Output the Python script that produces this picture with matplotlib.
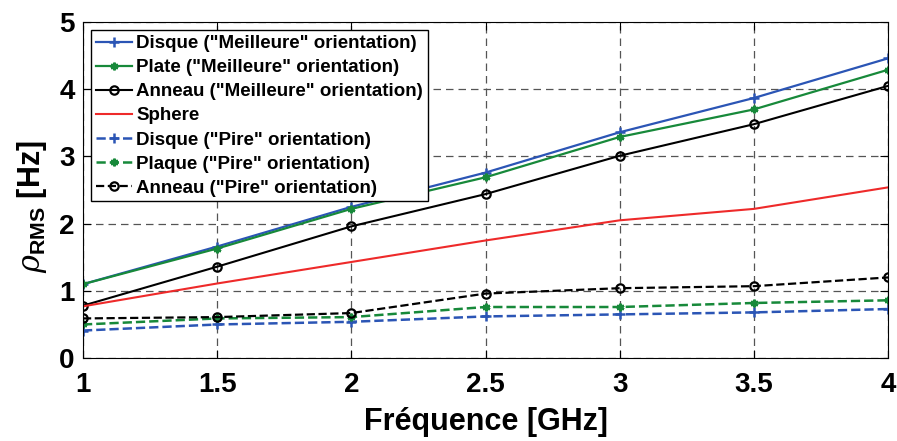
import numpy as np
import matplotlib
matplotlib.use('Agg')
import matplotlib.pyplot as plt

plt.rcParams['font.family'] = ['Liberation Sans', 'DejaVu Sans']
plt.rcParams['mathtext.fontset'] = 'custom'
plt.rcParams['mathtext.rm'] = 'Liberation Sans:bold'
plt.rcParams['mathtext.it'] = 'DejaVu Serif:italic'

freq = [1, 1.5, 2, 2.5, 3, 3.5, 4]

disque_best = [1.10, 1.66, 2.25, 2.76, 3.36, 3.87, 4.46]
plate_best = [1.10, 1.63, 2.22, 2.69, 3.29, 3.70, 4.29]
anneau_best = [0.78, 1.36, 1.96, 2.44, 3.01, 3.48, 4.05]
sphere = [0.77, 1.11, 1.43, 1.75, 2.05, 2.22, 2.54]
disque_worst = [0.41, 0.50, 0.54, 0.62, 0.65, 0.68, 0.73]
plaque_worst = [0.50, 0.59, 0.61, 0.76, 0.76, 0.82, 0.86]
anneau_worst = [0.59, 0.61, 0.67, 0.96, 1.04, 1.07, 1.20]

blue = '#2b55b5'
green = '#17893a'
red = '#ee2a2a'

fig = plt.figure(figsize=(8.97, 4.41), dpi=100)
ax = fig.add_axes([0.0925, 0.188, 0.8975, 0.762])

ax.plot(freq, disque_best, '-', color=blue, lw=1.6, marker='+', ms=7, mew=1.8, label='Disque ("Meilleure" orientation)')
ax.plot(freq, plate_best, '-', color=green, lw=1.6, marker=(6, 2, 0), ms=5.5, mew=1.8, label='Plate ("Meilleure" orientation)')
ax.plot(freq, anneau_best, '-', color='black', lw=1.5, marker='o', ms=6, mfc='none', mew=1.6, label='Anneau ("Meilleure" orientation)')
ax.plot(freq, sphere, '-', color=red, lw=1.5, label='Sphere')
ax.plot(freq, disque_worst, '--', color=blue, lw=1.8, marker='+', ms=7, mew=1.8, label='Disque ("Pire" orientation)')
ax.plot(freq, plaque_worst, '--', color=green, lw=1.8, marker=(6, 2, 0), ms=5.5, mew=1.8, label='Plaque ("Pire" orientation)')
ax.plot(freq, anneau_worst, '--', color='black', lw=1.6, marker='o', ms=6, mfc='none', mew=1.6, label='Anneau ("Pire" orientation)')

ax.set_xlim(1, 4)
ax.set_ylim(0, 5)
ax.set_xticks([1, 1.5, 2, 2.5, 3, 3.5, 4])
ax.set_xticklabels(['1', '1.5', '2', '2.5', '3', '3.5', '4'])
ax.set_yticks([0, 1, 2, 3, 4, 5])
ax.tick_params(direction='in', labelsize=20, length=6, top=True, right=True)
ax.tick_params(axis='x', pad=10)
ax.tick_params(axis='y', pad=6)
for lab in ax.get_xticklabels() + ax.get_yticklabels():
    lab.set_fontweight('bold')
ax.grid(True, linestyle=(0, (6, 4)), color='#555555', lw=0.9)

ax.set_xlabel('Fréquence [GHz]', fontsize=22, fontweight='bold')
ax.xaxis.set_label_coords(0.5, -0.145)
ax.set_ylabel(r'$\rho_{\mathrm{RMS}}$ [Hz]', fontsize=22, fontweight='bold')
ax.yaxis.set_label_coords(-0.042, 0.45)

leg = ax.legend(loc='upper left', prop={'weight': 'bold', 'size': 13.5},
                frameon=True, fancybox=False, edgecolor='black', framealpha=1,
                borderaxespad=0.45, handlelength=1.9, handletextpad=0.25,
                labelspacing=0.37, borderpad=0.25)
leg.get_frame().set_linewidth(1.0)

fig.savefig('out.png', dpi=100)
